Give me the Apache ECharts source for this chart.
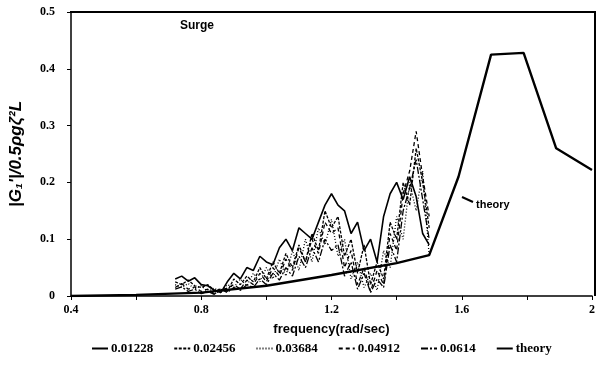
<!DOCTYPE html>
<html><head><meta charset="utf-8">
<script src="https://cdn.jsdelivr.net/npm/echarts@6/dist/echarts.min.js"></script>
<style>html,body{margin:0;padding:0;background:#fff}#c{width:598px;height:367px}</style>
</head><body><div id="c"></div>
<script>
const freq = [0.72,0.74,0.76,0.78,0.80,0.82,0.84,0.86,0.88,0.90,0.92,0.94,0.96,0.98,1.00,1.02,1.04,1.06,1.08,1.10,1.12,1.14,1.16,1.18,1.20,1.22,1.24,1.26,1.28,1.30,1.32,1.34,1.36,1.38,1.40,1.42,1.44,1.46,1.48,1.50];
const s01228 = [0.03,0.035,0.026,0.032,0.02,0.018,0.01,0.006,0.025,0.04,0.03,0.05,0.045,0.07,0.06,0.055,0.085,0.1,0.08,0.12,0.11,0.1,0.13,0.16,0.18,0.16,0.15,0.11,0.13,0.08,0.1,0.06,0.14,0.18,0.2,0.17,0.21,0.175,0.11,0.09];
const s02456 = [0.025,0.02,0.028,0.018,0.015,0.02,0.01,0.012,0.008,0.03,0.02,0.035,0.025,0.05,0.03,0.06,0.04,0.075,0.05,0.09,0.06,0.11,0.08,0.15,0.12,0.14,0.07,0.1,0.04,0.09,0.02,0.06,0.03,0.13,0.1,0.2,0.16,0.26,0.2,0.12];
const s03684 = [0.02,0.015,0.022,0.012,0.018,0.008,0.014,0.006,0.02,0.015,0.03,0.018,0.04,0.025,0.05,0.03,0.065,0.035,0.08,0.045,0.1,0.06,0.12,0.09,0.135,0.07,0.1,0.03,0.06,0.015,0.04,0.01,0.08,0.05,0.14,0.1,0.2,0.15,0.22,0.07];
const s04912 = [0.015,0.022,0.012,0.016,0.008,0.012,0.004,0.01,0.014,0.02,0.012,0.028,0.02,0.04,0.025,0.05,0.035,0.065,0.045,0.085,0.06,0.1,0.075,0.13,0.11,0.12,0.05,0.08,0.02,0.05,0.008,0.045,0.02,0.11,0.08,0.18,0.22,0.29,0.21,0.14];
const s0614 = [0.012,0.016,0.008,0.012,0.004,0.008,0.003,0.012,0.006,0.015,0.01,0.02,0.015,0.03,0.02,0.04,0.028,0.05,0.035,0.07,0.05,0.085,0.06,0.1,0.08,0.09,0.035,0.06,0.012,0.04,0.006,0.03,0.015,0.09,0.06,0.15,0.19,0.24,0.17,0.1];
const theoryFreq = [0.4,0.6,0.8,1.0,1.2,1.4,1.5,1.59,1.69,1.79,1.89,2.0];
const theoryVal = [0,0.002,0.006,0.018,0.037,0.058,0.072,0.21,0.425,0.428,0.26,0.222];
const xTicks = [0.4,0.8,1.2,1.6,2];
const yTicks = [0,0.1,0.2,0.3,0.4,0.5];
const seriesNames = ['0.01228','0.02456','0.03684','0.04912','0.0614','theory'];

const pair = (xs, ys) => xs.map((x, i) => [x, ys[i]]);
const lblFont = 'Liberation Sans Narrow';
const chart = echarts.init(document.getElementById('c'));
const mk = (name, ys, type, w) => ({
  name, type: 'line', data: pair(freq, ys), symbol: 'none', showSymbol: false,
  lineStyle: { color: '#000', width: w, type }, itemStyle: { color: '#000' }
});
const xMin = 0.4, xMax = 2, yMin = 0, yMax = 0.5;
chart.setOption({
  animation: false,
  grid: { left: 70, right: 2, top: 12, bottom: 71 },
  xAxis: {
    type: 'value', min: xMin, max: xMax, interval: 0.2,
    name: 'frequency(rad/sec)', nameLocation: 'middle', nameGap: 27,
    nameTextStyle: { fontFamily: 'Liberation Sans', fontWeight: 'bold', fontSize: 13, color: '#000' },
    axisLine: { onZero: false, lineStyle: { color: '#000', width: 1.5 } },
    axisTick: { lineStyle: { color: '#000' }, length: 4 },
    splitLine: { show: false },
    axisLabel: {
      color: '#000', fontFamily: lblFont, fontWeight: 'bold', fontSize: 12, margin: 8,
      formatter: v => { const r = Math.round(v * 10) / 10; return xTicks.some(t => Math.abs(t - r) < 1e-6) ? String(r) : ''; }
    }
  },
  yAxis: {
    type: 'value', min: yMin, max: yMax, interval: 0.1,
    name: "|G\u2081'|/0.5\u03c1g\u03b6\u00b2L", nameLocation: 'middle', nameGap: 46, nameRotate: 90,
    nameTextStyle: { fontFamily: 'Liberation Sans', fontWeight: 'bold', fontStyle: 'italic', fontSize: 17, color: '#000' },
    axisLine: { show: true, onZero: false, lineStyle: { color: '#000', width: 1.5 } },
    axisTick: { show: true, lineStyle: { color: '#000' }, length: 4 },
    splitLine: { show: false },
    axisLabel: {
      color: '#000', fontFamily: lblFont, fontWeight: 'bold', fontSize: 12, margin: 16,
      formatter: v => { const r = Math.round(v * 10) / 10; return r === 0 ? '0' : r.toFixed(1); }
    }
  },
  legend: {
    bottom: 7, left: 86, itemWidth: 16, itemHeight: 8, itemGap: 20,
    data: seriesNames, itemStyle: { opacity: 0 },
    textStyle: { color: '#000', fontFamily: lblFont, fontWeight: 'bold', fontSize: 13, padding: [0,0,0,-2] }
  },
  graphic: [
    { type: 'polyline', shape: { points: [[70, 12], [595, 12], [595, 296]] }, style: { stroke: '#000', lineWidth: 2, fill: null }, silent: true, z: 100 },
    { type: 'text', left: 180, top: 20, style: { text: 'Surge', font: 'bold 12px "Liberation Sans"', fill: '#000' } },
    { type: 'text', left: 476, top: 199, style: { text: 'theory', font: 'bold 11px "Liberation Sans"', fill: '#000' } },
    { type: 'line', shape: { x1: 462, y1: 197, x2: 473, y2: 202 }, style: { stroke: '#000', lineWidth: 2 } }
  ],
  series: [
    mk('0.01228', s01228, 'solid', 1.6),
    mk('0.02456', s02456, [3, 1.5], 1.3),
    mk('0.03684', s03684, [1, 2], 1.3),
    mk('0.04912', s04912, [4, 3], 1.3),
    mk('0.0614', s0614, [7, 2, 2, 2], 1.3),
    { name: 'theory', type: 'line', data: pair(theoryFreq, theoryVal), symbol: 'none', showSymbol: false,
      lineStyle: { color: '#000', width: 2.4 }, itemStyle: { color: '#000' } }
  ]
});
</script></body></html>
